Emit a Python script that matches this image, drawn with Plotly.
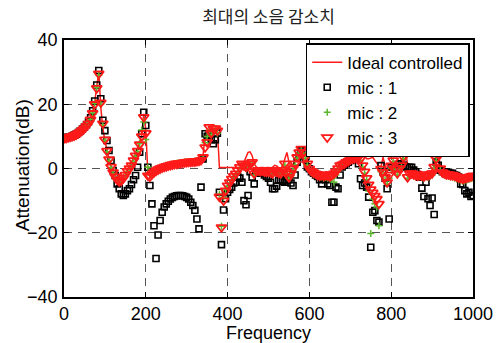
import plotly.graph_objects as go

freq = list(range(0, 1001, 5))

ideal = [
    9.5, 9.6, 9.7, 9.9, 10.1, 10.4, 10.7, 11.1, 11.5, 12.0,
    12.6, 13.3, 14.2, 15.5, 17.5, 20.5, 25.5, 30.0, 19.0, 12.5,
    8.7, 5.3, 3.0, 0.8, -0.8, -2.0, -2.8, -3.2, -3.0, -2.2,
    -1.2, -0.2, 0.8, 2.0, 3.3, 4.8, 6.3, 8.0, 10.5, 17.0,
    12.0, -1.5, -2.2, -1.6, -1.0, -0.6, -0.2, 0.1, 0.4, 0.6,
    0.8, 1.0, 1.2, 1.3, 1.5, 1.6, 1.7, 1.8, 1.9, 2.0,
    2.1, 2.2, 2.2, 2.3, 2.3, 2.4, 2.5, 3.0, 4.0, 10.5,
    10.0, 9.5, 11.0, 12.0, 12.3, 12.0, 0.3, 0.3, 0.3, 0.2,
    0.2, 0.2, 0.2, 0.2, 0.2, 0.3, 0.5, 1.0, 2.0, 3.5,
    5.0, 5.2, 4.0, 1.5, 0.5, 0.2, 0.3, 0.3, 0.2, 0.3,
    0.3, 0.2, 0.4, 1.0, 0.8, 0.2, 0.0, 1.0, 3.0, 5.0,
    2.0, 0.5, 1.0, 2.5, 4.5, 5.5, 6.0, 5.5, 4.0, 2.0,
    0.5, -0.2, -0.5, -0.8, -1.0, -1.1, -1.0, -1.2, -1.0, -1.1,
    -1.2, -1.0, -0.8, -0.5, 0.5, 1.5, 1.5, 1.8, 2.2, 2.5,
    3.0, 3.2, 3.3, 3.5, 3.8, 4.5, 5.2, 4.0, 3.0, 3.0,
    3.2, 3.5, 2.5, 1.5, 0.8, 0.5, 3.5, 1.0, -1.0, 0.0,
    1.0, 2.5, 2.0, 1.5, 1.5, 2.0, 4.0, 5.0, 1.5, 0.5,
    0.0, -0.5, -0.8, -1.0, -0.8, -1.0, -1.2, -1.0, -1.0, -0.8,
    -0.5, 1.0, 3.5, 4.8, 1.0, -0.5, -0.8, -1.0, -1.0, -1.2,
    -1.3, -1.5, -1.8, -2.0, -2.2, -2.3, -2.2, -2.0, -1.8, -1.6,
    -1.5,
]

mic1 = [
    9.5, 9.6, 9.7, 9.9, 10.1, 10.4, 10.7, 11.2, 11.7, 12.3,
    12.9, 13.6, 14.6, 15.8, 18.0, 21.0, 26.0, 30.5, 21.7, 15.0,
    11.8, 8.7, 5.6, 2.5, -0.6, -2.2, -4.8, -6.3, -7.9, -8.4,
    -7.9, -6.9, -6.3, -5.0, -3.5, -2.2, 0.4, 5.1, 10.8, 17.5,
    13.4, 0.4, -5.3, -11.0, -17.8, -28.0, -20.7, -16.2, -13.6, -12.0,
    -11.0, -10.2, -9.5, -9.0, -8.7, -8.5, -8.4, -8.4, -8.5, -8.7,
    -9.0, -9.5, -10.5, -11.5, -13.0, -15.7, -18.8, -5.8, 3.0, 10.8,
    10.0, 10.5, 9.0, 7.7, 9.0, 11.0, -7.4, -23.7, -12.9, -9.4,
    -7.4, -6.5, -5.8, -4.5, -4.3, -2.7, -3.0, -4.3, -10.0, -11.3,
    -8.4, -1.0, -2.7, -4.8, -1.5, -1.0, -1.5, -1.5, -2.0, -2.5,
    -3.0, -4.3, -6.3, -6.3, -5.5, -3.7, -3.5, -4.0, -4.3, -3.7,
    -3.5, -4.5, -5.3, -2.0, 2.0, 4.0, 5.5, 5.0, 3.0, 0.5,
    -0.1, -1.0, -1.5, -2.0, -2.5, -3.5, -4.8, -3.2, -3.5, -4.8,
    -5.3, -10.5, -10.5, -5.8, -6.3, -2.0, 0.5, 1.0, 1.5, 2.0,
    2.5, 2.8, 3.0, 3.2, 1.5, -3.2, -5.3, -4.5, -5.8, -8.9,
    -24.5, -13.6, -13.1, -16.2, -16.7, 0.9, -1.0, -3.0, -6.3, -15.7,
    0.5, 0.5, 0.0, 0.5, 1.5, 1.5, 1.0, 0.5, 0.3, 0.4,
    0.4, -0.5, -1.0, -2.2, -2.7, -6.1, -8.7, -4.3, -9.4, -11.5,
    -9.2, -14.3, 2.0, 1.0, -0.5, -1.0, -1.0, -1.2, -1.2, -1.5,
    -1.5, -2.0, -2.2, -2.7, -4.8, -5.0, -6.9, -7.9, -7.4, -8.7,
    -8.4,
]

mic2 = [
    9.5, 9.6, 9.8, 10.0, 10.2, 10.4, 10.7, 11.1, 11.5, 12.0,
    12.6, 13.3, 14.1, 15.3, 17.3, 20.3, 25.2, 29.0, 20.0, 13.5,
    8.8, 5.2, 2.5, 0.2, -1.5, -2.8, -3.8, -4.2, -4.0, -3.3,
    -2.3, -1.0, -0.2, 0.8, 2.2, 3.8, 5.3, 7.8, 12.0, 14.5,
    9.0, 0.4, -2.0, -1.6, -1.0, -0.5, -0.1, 0.2, 0.4, 0.6,
    0.8, 1.0, 1.1, 1.3, 1.4, 1.6, 1.7, 1.8, 1.9, 2.0,
    2.0, 2.1, 2.2, 2.2, 2.3, 2.3, 2.4, 2.6, 3.2, 8.0,
    10.0, 12.0, 10.5, 11.5, 12.0, 11.0, -8.0, -18.0, -9.0, -6.5,
    -5.5, -4.5, -3.5, -2.8, -2.0, -1.0, 0.0, 1.0, 0.5, 0.0,
    0.3, 1.0, 1.5, -2.0, -1.2, -1.0, -1.2, -1.0, -1.3, -1.4,
    -1.3, -1.6, -2.0, -1.0, -1.5, -1.8, -2.0, -1.0, 1.0, -1.5,
    -3.0, -2.0, -0.5, 1.2, 3.2, 4.8, 5.8, 4.8, 3.2, 1.0,
    -0.5, -1.2, -1.8, -2.2, -2.6, -2.8, -2.6, -3.0, -2.8, -3.0,
    -3.2, -3.0, -4.3, -2.0, -0.5, 0.5, 0.8, 1.2, 1.6, 2.0,
    2.5, 2.8, 3.0, 3.0, 3.2, 2.5, 0.5, -1.5, -3.5, -7.0,
    -20.2, -9.5, -11.0, -12.0, -17.8, -1.0, -2.0, -3.5, -4.8, -3.0,
    0.0, 2.0, -0.5, -2.0, -0.5, 0.5, 3.0, 4.5, -3.0, -2.0,
    -2.0, -2.3, -2.5, -2.8, -2.6, -2.8, -3.0, -2.6, -2.7, -2.4,
    -2.0, 0.0, 2.5, 4.2, -0.5, -1.8, -2.0, -2.3, -2.4, -2.6,
    -2.7, -3.0, -3.3, -3.6, -3.8, -4.0, -3.8, -3.6, -3.4, -3.2,
    -3.0,
]

mic3 = [
    9.4, 9.5, 9.7, 9.9, 10.1, 10.3, 10.6, 11.0, 11.4, 11.9,
    12.5, 13.2, 14.0, 15.2, 17.2, 20.0, 25.0, 29.5, 20.5, 14.0,
    9.0, 5.5, 2.8, 0.5, -1.2, -2.5, -3.5, -4.0, -3.8, -3.0,
    -2.0, -0.8, 0.0, 1.0, 2.5, 4.0, 5.5, 7.5, 10.0, 16.0,
    11.0, -2.2, -2.5, -1.8, -1.2, -0.7, -0.3, 0.0, 0.3, 0.5,
    0.7, 0.9, 1.1, 1.2, 1.4, 1.5, 1.6, 1.7, 1.8, 1.9,
    2.0, 2.1, 2.1, 2.2, 2.2, 2.3, 2.4, 2.6, 3.5, 6.6,
    8.2, 12.9, 11.0, 12.4, 12.5, 11.8, -8.8, -18.3, -10.0, -6.9,
    -5.3, -4.3, -3.2, -2.4, -1.6, -0.6, 0.4, 1.5, 1.0, 0.5,
    0.8, 1.5, 2.0, -1.6, -0.8, -0.5, -0.8, -0.6, -0.9, -1.0,
    -0.8, -1.2, -1.5, -0.5, -1.0, -1.3, -1.5, -0.5, 1.5, -1.1,
    -2.7, -1.5, 0.0, 1.5, 3.5, 5.0, 6.1, 5.0, 3.5, 1.5,
    -0.1, -0.8, -1.2, -1.6, -2.0, -2.2, -2.0, -2.3, -2.0, -2.2,
    -2.4, -2.0, -1.6, -1.0, 0.0, 1.0, 1.2, 1.5, 2.0, 2.3,
    2.8, 3.0, 3.2, 3.3, 3.5, 3.0, 1.0, -1.0, -3.0, -5.0,
    -6.5, -7.5, -8.5, -9.5, -11.0, -0.1, -1.1, -2.7, -4.3, -2.0,
    0.9, 2.5, 0.0, -1.5, 0.0, 1.0, 3.5, 5.0, -2.7, -1.5,
    -1.5, -1.8, -2.0, -2.2, -2.0, -2.2, -2.4, -2.0, -2.1, -1.8,
    -1.5, 0.5, 3.0, 4.6, 0.0, -1.2, -1.5, -1.8, -1.8, -2.0,
    -2.0, -2.2, -2.5, -2.8, -3.0, -3.2, -3.0, -2.8, -2.6, -2.4,
    -2.2,
]

for s in (ideal, mic1, mic2, mic3):
    assert len(s) == len(freq), len(s)

x_ticks = [0, 200, 400, 600, 800, 1000]
y_ticks = [-40, -20, 0, 20, 40]

font_main = "Liberation Sans, Arial, sans-serif"

fig = go.Figure()
fig.add_trace(go.Scatter(
    x=freq, y=ideal, mode="lines", name="Ideal controlled",
    line=dict(color="#ff1a1a", width=1.5),
))
fig.add_trace(go.Scatter(
    x=freq, y=mic1, mode="markers", name="mic : 1",
    marker=dict(symbol="square-open", size=6, color="black",
                line=dict(width=1.6, color="black")),
))
fig.add_trace(go.Scatter(
    x=freq, y=mic2, mode="markers", name="mic : 2",
    marker=dict(symbol="cross-thin-open", size=5, color="#5cb82e",
                line=dict(width=1.5, color="#5cb82e")),
))
fig.add_trace(go.Scatter(
    x=freq, y=mic3, mode="markers", name="mic : 3",
    marker=dict(symbol="triangle-down-open", size=9, color="#ff1a1a",
                line=dict(width=1.8, color="#ff1a1a")),
))

axis_common = dict(
    showline=True, linecolor="black", linewidth=1.5, mirror="allticks",
    ticks="inside", ticklen=5, tickwidth=1, tickcolor="black",
    showgrid=True, gridcolor="#555555", griddash="8px,6px", gridwidth=1,
    zeroline=False, automargin=False,
    tickfont=dict(family=font_main, size=18, color="black"),
)

fig.update_layout(
    width=501, height=343,
    margin=dict(l=64, r=28, t=40, b=46),
    paper_bgcolor="white", plot_bgcolor="white",
    title=dict(text="최대의 소음 감소치", x=0.5, xref="paper", xanchor="center",
               y=0.95, yref="container", yanchor="middle",
               font=dict(family="Noto Sans CJK KR", size=17, color="#222222")),
    xaxis=dict(range=[0, 1000], tickvals=x_ticks, ticklabelstandoff=0,
               title=dict(text="Frequency", standoff=0,
                          font=dict(family=font_main, size=18, color="black")),
               **axis_common),
    yaxis=dict(range=[-40, 40], tickvals=y_ticks, ticklabelstandoff=1,
               **axis_common),
    annotations=[dict(text="Attenuation(dB)", textangle=-90,
                      xref="paper", yref="paper", x=-0.1027, y=0.513,
                      xanchor="center", yanchor="middle", showarrow=False,
                      font=dict(family=font_main, size=19, color="black"))],
    legend=dict(x=0.992, y=0.988, xanchor="right", yanchor="top",
                bgcolor="white", bordercolor="black", borderwidth=1.5,
                font=dict(family=font_main, size=17, color="black"),
                tracegroupgap=0, itemwidth=30),
    showlegend=True,
)

fig.write_html("out.html")
